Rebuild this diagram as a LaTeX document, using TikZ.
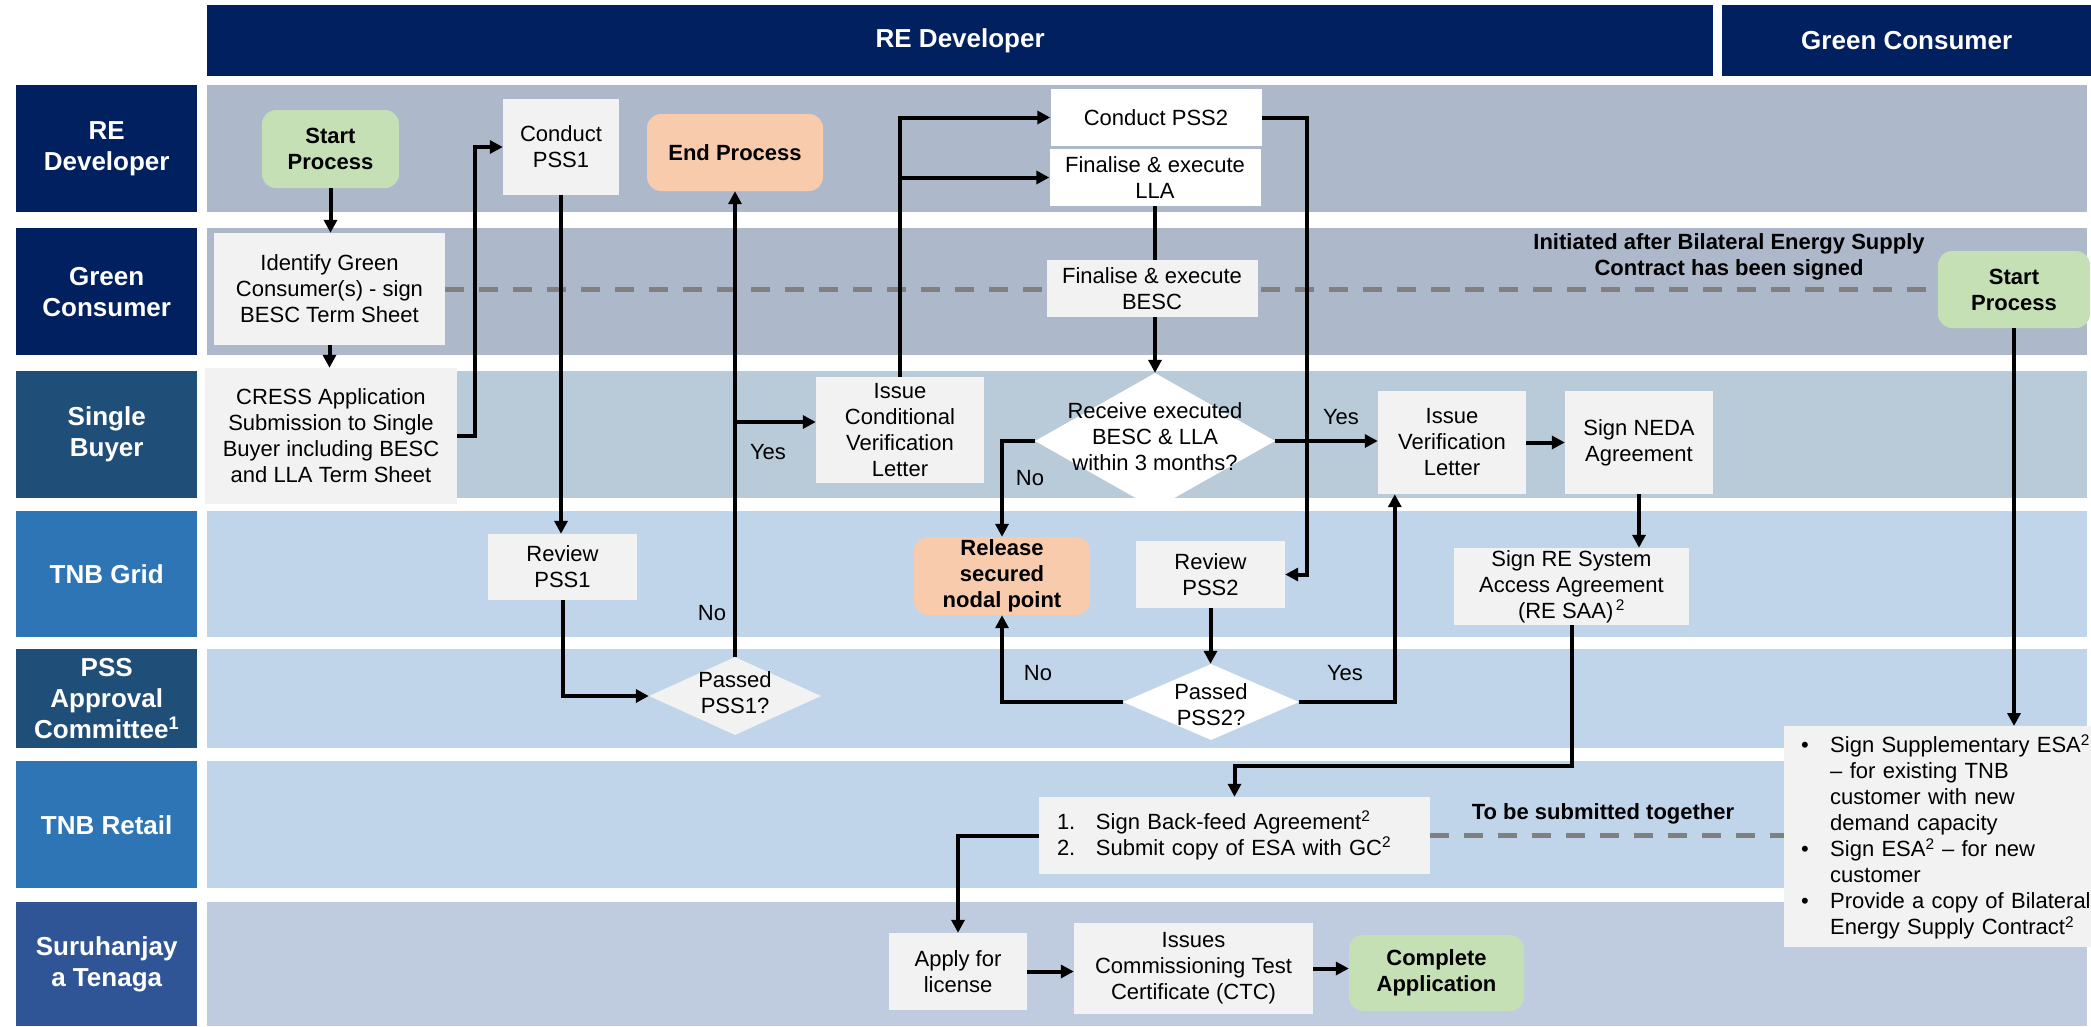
\documentclass[tikz,border=0pt]{standalone}
\usepackage{fontspec}
\setmainfont{Liberation Sans}
\usetikzlibrary{arrows.meta,shapes.geometric,calc}
\definecolor{navy}{HTML}{002060}
\definecolor{sbblue}{HTML}{1F4E79}
\definecolor{midblue}{HTML}{2E75B6}
\definecolor{stblue}{HTML}{2F5597}
\definecolor{laneA}{HTML}{ADB9CA}
\definecolor{laneB}{HTML}{B9CAD9}
\definecolor{laneC}{HTML}{C0D5EA}
\definecolor{laneD}{HTML}{BFCCE0}
\definecolor{boxgray}{HTML}{F2F2F2}
\definecolor{gobox}{HTML}{C5E0B4}
\definecolor{stopbox}{HTML}{F8CBAD}
\definecolor{dashgray}{HTML}{808080}
\newcommand\mynodefont{\fontsize{22}{26}\selectfont}
\newcommand\mylanefont{\fontsize{26}{31}\selectfont}
\pgfdeclarelayer{lanes}
\pgfdeclarelayer{dashes}
\pgfsetlayers{lanes,dashes,main}
\tikzset{
  header/.style={fill=navy, text=white, font=\mylanefont\bfseries, inner sep=0pt, anchor=north west},
  lanelabel/.style={fill=#1, text=white, font=\mylanefont\bfseries, align=center, inner sep=0pt, minimum width=181pt, anchor=north west},
  lanebg/.style={fill=#1, inner sep=0pt, minimum width=1880pt, anchor=north west},
  box/.style={fill=boxgray, inner sep=0pt, align=center, font=\mynodefont},
  wbox/.style={fill=white, inner sep=0pt, align=center, font=\mynodefont},
  gobx/.style={fill=gobox, rounded corners=14pt, inner sep=0pt, align=center, font=\mynodefont\bfseries},
  stopbx/.style={fill=stopbox, rounded corners=14pt, inner sep=0pt, align=center, font=\mynodefont\bfseries},
  decision/.style={diamond, fill=#1, inner sep=0pt},
  dtext/.style={inner sep=0pt, align=center, font=\mynodefont},
  lbl/.style={inner sep=0pt, font=\mynodefont},
  note/.style={inner sep=0pt, align=center, font=\mynodefont\bfseries},
  plainline/.style={line width=4pt, line join=miter},
  conn/.style={line width=4pt, line join=miter, -{Triangle[length=13pt,width=13pt]}},
  dashline/.style={draw=dashgray, line width=5pt, dash pattern=on 19pt off 15pt}
}
\begin{document}
\begin{tikzpicture}[x=1pt,y=-1pt]
\useasboundingbox (0,0) rectangle (2091,1026);
\begin{pgfonlayer}{lanes}
\node[header, minimum width=1506pt, minimum height=71pt] (hRE) at (207,5) {RE Developer};
\node[header, minimum width=369pt, minimum height=71pt] (hGC) at (1722,5) {Green Consumer};
% lane backgrounds
\node[lanebg=laneA, minimum height=127pt] (L1) at (207,85) {};
\node[lanebg=laneA, minimum height=127pt] (L2) at (207,228) {};
\node[lanebg=laneB, minimum height=127pt] (L3) at (207,371) {};
\node[lanebg=laneC, minimum height=126pt] (L4) at (207,511) {};
\node[lanebg=laneC, minimum height=99pt] (L5) at (207,649) {};
\node[lanebg=laneC, minimum height=127pt] (L6) at (207,761) {};
\node[lanebg=laneD, minimum height=124pt] (L7) at (207,902) {};
% lane labels
\node[lanelabel=navy, minimum height=127pt] (T1) at (16,85) {RE\\Developer};
\node[lanelabel=navy, minimum height=127pt] (T2) at (16,228) {Green\\Consumer};
\node[lanelabel=sbblue, minimum height=127pt] (T3) at (16,371) {Single\\Buyer};
\node[lanelabel=midblue, minimum height=126pt] (T4) at (16,511) {TNB Grid};
\node[lanelabel=sbblue, minimum height=99pt] (T5) at (16,649) {PSS\\Approval\\Committee\textsuperscript{1}};
\node[lanelabel=midblue, minimum height=127pt] (T6) at (16,761) {TNB Retail};
\node[lanelabel=stblue, minimum height=124pt] (T7) at (16,902) {Suruhanjay\\a Tenaga};
\end{pgfonlayer}

% process nodes
\node[gobx, minimum width=137pt, minimum height=78pt] (startRE) at (330.5,149) {Start\\Process};
\node[box, minimum width=116pt, minimum height=96pt] (conductPSS1) at (561,147) {Conduct\\PSS1};
\node[stopbx, minimum width=176pt, minimum height=77pt] (endProc) at (735,152.5) {End Process};
\node[wbox, minimum width=211pt, minimum height=57pt] (conductPSS2) at (1156,117.5) {Conduct PSS2};
\node[wbox, minimum width=211pt, minimum height=57pt] (finLLA) at (1155,177.5) {Finalise \& execute\\LLA};
\node[box, minimum width=231pt, minimum height=112pt] (identify) at (329.5,289) {Identify Green\\Consumer(s) - sign\\BESC Term Sheet};
\node[box, minimum width=211pt, minimum height=57pt] (finBESC) at (1152,288.5) {Finalise \& execute\\BESC};
\node[note] (initiated) at (1729,257) {Initiated after Bilateral Energy Supply\\Contract has been signed};
\node[gobx, minimum width=152pt, minimum height=77pt] (startGC) at (2014,289.5) {Start\\Process};
\node[box, minimum width=252pt, minimum height=136pt] (CRESS) at (331,436) {CRESS Application\\Submission to Single\\Buyer including BESC\\and LLA Term Sheet};
\node[box, minimum width=168pt, minimum height=106pt] (issueCond) at (900,430) {Issue\\Conditional\\Verification\\Letter};
\node[decision=white, minimum width=240pt, minimum height=136pt] (receive) at (1155,441) {};
\node[dtext] (receiveT) at (1155,437) {Receive executed\\BESC \& LLA\\within 3 months?};
\node[box, minimum width=148pt, minimum height=103pt] (issueVer) at (1452,442.5) {Issue\\Verification\\Letter};
\node[box, minimum width=148pt, minimum height=103pt] (signNEDA) at (1639,442.5) {Sign NEDA\\Agreement};
\node[box, minimum width=149pt, minimum height=66pt] (reviewPSS1) at (562.5,567) {Review\\PSS1};
\node[stopbx, minimum width=176pt, minimum height=78pt] (release) at (1002,576) {Release\\secured\\nodal point};
\node[box, minimum width=149pt, minimum height=67pt] (reviewPSS2) at (1210.5,574.5) {Review\\PSS2};
\node[box, minimum width=235pt, minimum height=77pt] (signSAA) at (1571.5,586.5) {Sign RE System\\Access Agreement\\(RE SAA)\textsuperscript{\,2}};
\node[decision=boxgray, minimum width=172pt, minimum height=78pt] (passedPSS1) at (735,696) {};
\node[dtext] (passedPSS1T) at (735,693) {Passed\\PSS1?};
\node[decision=white, minimum width=176pt, minimum height=76pt] (passedPSS2) at (1211,702) {};
\node[dtext] (passedPSS2T) at (1211,705) {Passed\\PSS2?};
\node[box, align=left, text width=355pt, inner xsep=18pt, minimum height=77pt] (backfeed) at (1234.5,835.5)
  {\makebox[39pt][l]{1.}Sign Back-feed Agreement\textsuperscript{2}\\\makebox[39pt][l]{2.}Submit copy of ESA with GC\textsuperscript{2}};
\node[box, align=left, text width=273pt, inner xsep=17pt, minimum height=221pt, anchor=north west] (bullet) at (1784,726)
  {\mbox{\makebox[29pt][l]{\textbullet}Sign Supplementary ESA\textsuperscript{2}}\\
   \mbox{\hspace*{29pt}– for existing TNB}\\
   \mbox{\hspace*{29pt}customer with new}\\
   \mbox{\hspace*{29pt}demand capacity}\\
   \mbox{\makebox[29pt][l]{\textbullet}Sign ESA\textsuperscript{2} – for new}\\
   \mbox{\hspace*{29pt}customer}\\
   \mbox{\makebox[29pt][l]{\textbullet}Provide a copy of Bilateral}\\
   \mbox{\hspace*{29pt}Energy Supply Contract\textsuperscript{2}}};
\node[note] (together) at (1603,814) {To be submitted together};
\node[box, minimum width=138pt, minimum height=77pt] (apply) at (958,971.5) {Apply for\\license};
\node[box, minimum width=239pt, minimum height=91pt] (CTC) at (1193.5,968.5) {Issues\\Commissioning Test\\Certificate (CTC)};
\node[gobx, minimum width=175pt, minimum height=76pt] (complete) at (1436.5,973) {Complete\\Application};

% yes / no labels
\node[lbl] (no1) at (712,613) {No};
\node[lbl] (yes1) at (768,452) {Yes};
\node[lbl] (no2) at (1030,478) {No};
\node[lbl] (yes2) at (1341,417) {Yes};
\node[lbl] (no3) at (1038,673) {No};
\node[lbl] (yes3) at (1345,673) {Yes};

% dashed connectors behind nodes
\begin{pgfonlayer}{dashes}
\draw[dashline] (identify.east) -- (identify.east -| startGC.west);
\draw[dashline] (backfeed.east) -- (backfeed.east -| bullet.west);
\end{pgfonlayer}

% connectors
\draw[conn] (startRE.south) -- (startRE.south |- identify.north);
\draw[conn] (identify.south) -- (identify.south |- CRESS.north);
\draw[conn] (CRESS.east) -- ++(18,0) |- (conductPSS1.west);
\draw[conn] (conductPSS1.south) -- (conductPSS1.south |- reviewPSS1.north);
\draw[conn] (reviewPSS1.south) |- (passedPSS1.west);
\draw[conn] (passedPSS1.north) -- (passedPSS1.north |- endProc.south);
\coordinate (yesSplit) at (735,422);
\draw[conn] (yesSplit) -- (yesSplit -| issueCond.west);
\draw[conn] (issueCond.north) |- (conductPSS2.west);
\draw[conn] (issueCond.north |- finLLA.west) -- (finLLA.west);
\draw[plainline] (finLLA.south) -- (finLLA.south |- finBESC.north);
\draw[conn] (receive.north |- finBESC.south) -- (receive.north);
\draw[conn] (receive.west) -| (release.north);
\draw[conn] (receive.east) -- (receive.east -| issueVer.west);
\draw[conn] (conductPSS2.east) -- ++(45,0) |- (reviewPSS2.east);
\draw[conn] (reviewPSS2.south) -- (reviewPSS2.south |- passedPSS2.north);
\draw[conn] (passedPSS2.west) -| (release.south);
\coordinate (verIn) at ($(issueVer.south west)+(17,0)$);
\draw[conn] (passedPSS2.east) -| (verIn);
\draw[conn] (issueVer.east) -- (signNEDA.west);
\draw[conn] (signNEDA.south) -- (signNEDA.south |- signSAA.north);
\draw[conn] (signSAA.south) -- ++(0,141) -| (backfeed.north);
\draw[conn] (backfeed.west) -| (apply.north);
\draw[conn] (apply.east) -- (apply.east -| CTC.west);
\draw[conn] (CTC.east) -- (CTC.east -| complete.west);
\draw[conn] (startGC.south) -- (startGC.south |- bullet.north);
\end{tikzpicture}
\end{document}
